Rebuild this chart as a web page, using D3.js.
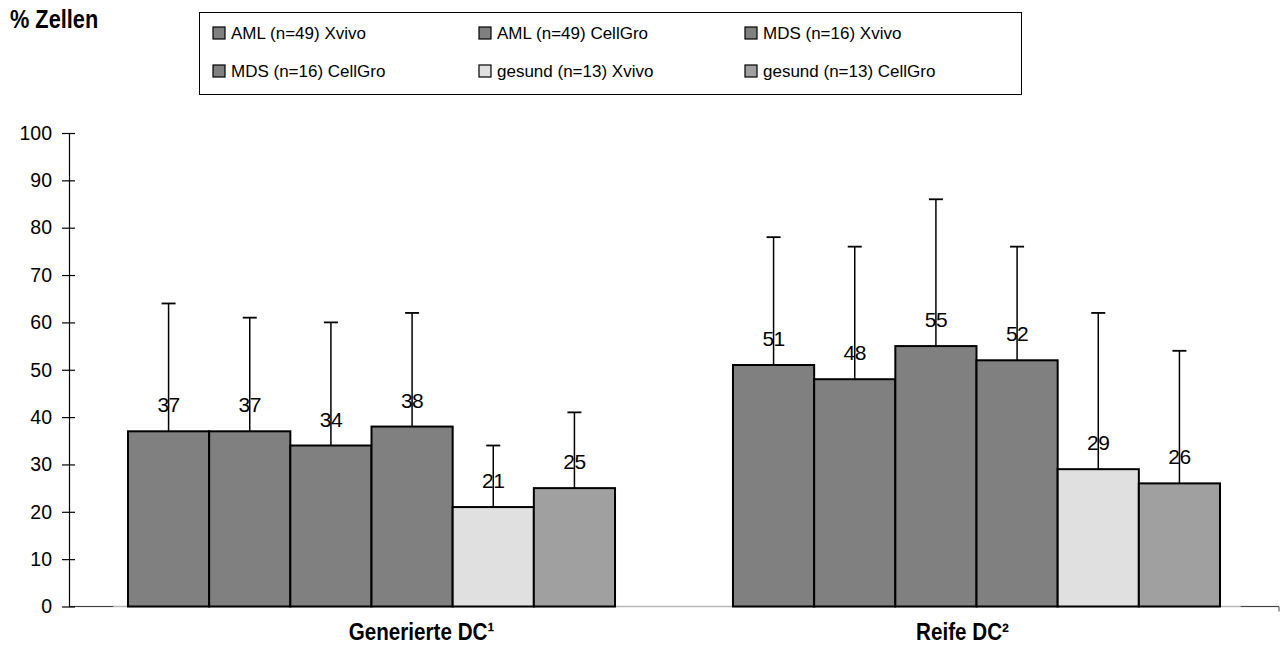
<!DOCTYPE html>
<html><head><meta charset="utf-8">
<script src="https://cdn.jsdelivr.net/npm/d3@7/dist/d3.min.js"></script>
<style>
body{margin:0;background:#fff;}
svg{display:block;}
.narrow{font-family:"Liberation Sans Narrow","Arial Narrow","Liberation Sans",sans-serif;font-weight:bold;}
.reg{font-family:"Liberation Sans",Arial,sans-serif;}
</style></head>
<body>
<svg id="c" width="1284" height="646"></svg>
<script>
const categories = ["Generierte DC\u00B9", "Reife DC\u00B2"];
const seriesNames = ["AML (n=49) Xvivo","AML (n=49) CellGro","MDS (n=16) Xvivo","MDS (n=16) CellGro","gesund (n=13) Xvivo","gesund (n=13) CellGro"];
const seriesColors = ["#808080","#808080","#808080","#808080","#e0e0e0","#a0a0a0"];
const generierteValues = [37, 37, 34, 38, 21, 25];
const generierteErrTop = [64, 61, 60, 62, 34, 41];
const reifeValues = [51, 48, 55, 52, 29, 26];
const reifeErrTop = [78, 76, 86, 76, 62, 54];
const yTicks = [0,10,20,30,40,50,60,70,80,90,100];
const yTitle = "% Zellen";

const values = [generierteValues, reifeValues];
const errTop = [generierteErrTop, reifeErrTop];
const catLabelShift = [50, -14];

const svg = d3.select("#c");
const pLeft = 69, pRight = 1279, pTop = 133, pBottom = 606.5;

const x0 = d3.scaleBand().domain(categories).range([pLeft, pRight]).paddingInner(0.195).paddingOuter(0.0975);
const x1 = d3.scaleBand().domain(seriesNames).range([0, x0.bandwidth()]).padding(0);
const y = d3.scaleLinear().domain([0, 100]).range([pBottom, pTop]);

// x axis line
const outerGap = x0(categories[0]) - pLeft;
svg.append("line").attr("x1", pLeft).attr("x2", pRight).attr("y1", y(0)).attr("y2", y(0))
  .attr("stroke", "#b8b8b8").attr("stroke-width", 1.5);
svg.append("line").attr("x1", pLeft).attr("x2", pLeft + outerGap*0.75).attr("y1", y(0)).attr("y2", y(0))
  .attr("stroke", "#444").attr("stroke-width", 1.2);
svg.append("line").attr("x1", pRight - outerGap*0.65).attr("x2", pRight).attr("y1", y(0)).attr("y2", y(0))
  .attr("stroke", "#444").attr("stroke-width", 1.2);
svg.append("line").attr("x1", pRight).attr("x2", pRight).attr("y1", y(0)).attr("y2", y(0)+5)
  .attr("stroke", "#666").attr("stroke-width", 1.2);

// y axis
const yAxis = d3.axisLeft(y).tickValues(yTicks).tickSizeInner(0).tickSizeOuter(0).tickPadding(17);
const ga = svg.append("g").attr("transform", `translate(${pLeft},0)`).call(yAxis);
ga.select(".domain").attr("stroke", "#000").attr("stroke-width", 1.2);
ga.selectAll(".tick text").attr("class","reg").attr("font-size", 19.5).attr("fill", "#000");
ga.selectAll(".tick").append("line").attr("x1", -7).attr("x2", 6).attr("stroke", "#000").attr("stroke-width", 1.2);

// bars
categories.forEach((cat, ci) => {
  const g = svg.append("g").attr("transform", `translate(${x0(cat)},0)`);
  seriesNames.forEach((s, si) => {
    const v = values[ci][si];
    g.append("rect").attr("x", x1(s)).attr("y", y(v)).attr("width", x1.bandwidth()).attr("height", y(0) - y(v))
      .attr("fill", seriesColors[si]).attr("stroke", "#000").attr("stroke-width", 2);
  });
  seriesNames.forEach((s, si) => {
    const v = values[ci][si], e = errTop[ci][si];
    const cx = x1(s) + x1.bandwidth()/2;
    g.append("line").attr("x1", cx).attr("x2", cx).attr("y1", y(v)).attr("y2", y(e)).attr("stroke", "#000").attr("stroke-width", 1.5);
    g.append("line").attr("x1", cx-7).attr("x2", cx+7).attr("y1", y(e)).attr("y2", y(e)).attr("stroke", "#000").attr("stroke-width", 1.8);
    g.append("text").attr("class","reg").attr("x", cx).attr("y", y(v) - 19).attr("text-anchor", "middle")
      .attr("font-size", 21).attr("letter-spacing", -0.5).attr("fill", "#000").text(v);
  });
  svg.append("g").attr("transform", `translate(${x0(cat) + x0.bandwidth()/2 + catLabelShift[ci]},640) scale(0.86,1)`)
    .append("text").attr("class","narrow").attr("text-anchor","middle").attr("font-size", 24).attr("fill","#000").text(cat);
});

// y title
svg.append("g").attr("transform", "translate(10,28) scale(0.87,1)")
  .append("text").attr("class","narrow").attr("font-size", 25).attr("fill","#000").text(yTitle);

// legend
const lg = svg.append("g");
lg.append("rect").attr("x", 199.5).attr("y", 12.5).attr("width", 822).attr("height", 82).attr("fill","#fff").attr("stroke","#000").attr("stroke-width",1);
const colX = [213, 479, 745], rowY = [33, 71];
seriesNames.forEach((s, i) => {
  const cx = colX[i % 3], cy = rowY[Math.floor(i/3)];
  lg.append("rect").attr("x", cx).attr("y", cy - 6).attr("width", 12).attr("height", 12)
    .attr("fill", seriesColors[i]).attr("stroke","#000").attr("stroke-width",1.2);
  lg.append("text").attr("class","reg").attr("x", cx + 18).attr("y", cy).attr("dy","0.35em")
    .attr("font-size", 17).attr("fill","#000").text(s);
});
</script>
</body></html>
